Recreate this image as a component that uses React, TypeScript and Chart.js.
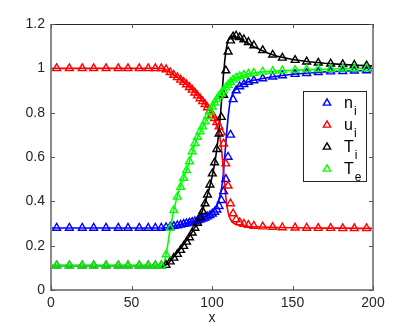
import React, { useEffect, useRef } from "react";
import { Chart, registerables } from "chart.js";

Chart.register(...registerables);

// ---- data ----
const markerX = [
  3.5, 11.4, 19.4, 26.5, 34.2, 41.8, 47.8, 54.8, 60.4, 64.8, 68.5,
  71.5, 74, 76.3, 78.5, 80.5, 82.4, 84.2, 86, 87.7, 89.4,
  91, 92.6, 94.2, 95.7, 97.2, 98.7, 100.2, 101.6, 103, 104.4,
  105.8, 107.2, 108.6, 110, 111.5, 113.1, 115, 117.2, 119.8, 122.6,
  126, 131.5, 137.7, 143.7, 151.6, 158.8, 166, 173.7, 181.2, 188.4, 196,
];

const niMarkers = [
  0.28, 0.28, 0.28, 0.28, 0.28, 0.28, 0.28, 0.28, 0.28, 0.28, 0.28,
  0.282, 0.285, 0.288, 0.291, 0.294, 0.297, 0.3, 0.303, 0.306, 0.309,
  0.313, 0.317, 0.321, 0.326, 0.331, 0.337, 0.344, 0.352, 0.362, 0.378,
  0.405, 0.445, 0.5, 0.6, 0.7, 0.86, 0.9, 0.918, 0.928, 0.938,
  0.945, 0.954, 0.962, 0.968, 0.974, 0.978, 0.982, 0.985, 0.987, 0.989, 0.99,
];

const uiMarkers = [
  1, 1, 1, 1, 1, 1, 1, 1, 1, 1, 1,
  0.995, 0.982, 0.97, 0.959, 0.948, 0.938, 0.927, 0.915, 0.903, 0.89,
  0.877, 0.864, 0.851, 0.838, 0.823, 0.808, 0.79, 0.775, 0.757, 0.737,
  0.71, 0.66, 0.57, 0.47, 0.39, 0.345, 0.318, 0.305, 0.298, 0.293,
  0.289, 0.286, 0.284, 0.282, 0.281, 0.28, 0.279, 0.279, 0.278, 0.278, 0.278,
];

const tiMarkers = [
  0.11, 0.11, 0.11, 0.11, 0.11, 0.11, 0.11, 0.11, 0.11, 0.11, 0.11,
  0.112, 0.128, 0.145, 0.162, 0.18, 0.198, 0.217, 0.237, 0.258, 0.28,
  0.302, 0.327, 0.355, 0.39, 0.43, 0.475, 0.525, 0.575, 0.635, 0.705,
  0.78, 0.88, 0.99, 1.075, 1.125, 1.143, 1.147, 1.14, 1.13, 1.118,
  1.103, 1.081, 1.061, 1.047, 1.037, 1.03, 1.025, 1.021, 1.018, 1.015, 1.012,
];

const teMarkers = [
  0.11, 0.11, 0.11, 0.11, 0.11, 0.11, 0.11, 0.11, 0.11, 0.11, 0.11,
  0.16, 0.28, 0.36, 0.42, 0.465, 0.505, 0.54, 0.58, 0.625, 0.662,
  0.69, 0.715, 0.737, 0.76, 0.783, 0.805, 0.827, 0.845, 0.86, 0.875,
  0.888, 0.9, 0.913, 0.925, 0.937, 0.948, 0.957, 0.964, 0.97, 0.975,
  0.979, 0.984, 0.987, 0.99, 0.992, 0.994, 0.996, 0.997, 0.998, 0.999, 1.0,
];

const lineX = [
  0, 70, 72, 74, 76, 78, 80, 82, 84, 86, 88, 90, 92, 94, 96, 98, 100,
  101, 102, 103, 104, 105, 106, 107, 108, 109, 110, 111, 112, 113, 114,
  116, 118, 120, 123, 126, 130, 135, 140, 150, 160, 170, 180, 190, 200,
];

const niLine = [
  0.28, 0.28, 0.282, 0.285, 0.288, 0.291, 0.294, 0.297, 0.3, 0.304, 0.308, 0.313, 0.318, 0.324, 0.331, 0.34, 0.352,
  0.36, 0.37, 0.383, 0.4, 0.425, 0.46, 0.52, 0.61, 0.7, 0.78, 0.84, 0.87, 0.888, 0.9,
  0.915, 0.925, 0.932, 0.94, 0.946, 0.952, 0.959, 0.964, 0.973, 0.979, 0.984, 0.987, 0.989, 0.99,
];

const uiLine = [
  1, 1, 0.993, 0.982, 0.971, 0.961, 0.95, 0.939, 0.927, 0.915, 0.9, 0.885, 0.868, 0.852, 0.835, 0.815, 0.793,
  0.78, 0.765, 0.745, 0.72, 0.685, 0.63, 0.55, 0.46, 0.39, 0.35, 0.325, 0.312, 0.304, 0.299,
  0.293, 0.29, 0.288, 0.286, 0.285, 0.284, 0.283, 0.282, 0.281, 0.28, 0.279, 0.279, 0.278, 0.278,
];

const tiLine = [
  0.11, 0.11, 0.115, 0.13, 0.147, 0.165, 0.183, 0.202, 0.222, 0.243, 0.266, 0.292, 0.322, 0.357, 0.4, 0.45, 0.51,
  0.545, 0.585, 0.635, 0.695, 0.77, 0.86, 0.96, 1.04, 1.095, 1.125, 1.14, 1.145, 1.146, 1.144,
  1.138, 1.13, 1.122, 1.11, 1.098, 1.084, 1.068, 1.056, 1.04, 1.03, 1.023, 1.018, 1.014, 1.011,
];

const teLine = [
  0.11, 0.11, 0.18, 0.275, 0.35, 0.412, 0.46, 0.5, 0.538, 0.58, 0.628, 0.672, 0.705, 0.733, 0.762, 0.792, 0.822,
  0.836, 0.848, 0.858, 0.869, 0.879, 0.889, 0.898, 0.907, 0.916, 0.924, 0.932, 0.94, 0.946, 0.951,
  0.959, 0.965, 0.97, 0.975, 0.979, 0.983, 0.986, 0.988, 0.991, 0.994, 0.996, 0.998, 0.999, 1.0,
];

const legendBase = ["n", "u", "T", "T"];
const legendSub = ["i", "i", "i", "e"];
const seriesColors = ["#0000ff", "#ff0000", "#000000", "#00ff00"];
const xTicks = [0, 50, 100, 150, 200];
const yTicks = [0, 0.2, 0.4, 0.6, 0.8, 1, 1.2];

const FONT = "'Liberation Sans', Arial, Helvetica, sans-serif";

function triangle(ctx: CanvasRenderingContext2D, x: number, y: number, r: number, color: string) {
  const t = (2 * Math.PI) / 3;
  ctx.beginPath();
  ctx.moveTo(x, y - r);
  ctx.lineTo(x + Math.sin(t) * r, y - Math.cos(t) * r);
  ctx.lineTo(x + Math.sin(2 * t) * r, y - Math.cos(2 * t) * r);
  ctx.closePath();
  ctx.strokeStyle = color;
  ctx.lineWidth = 1.4;
  ctx.stroke();
}

const framePlugin = {
  id: "matlabFrame",
  afterDatasetsDraw(chart: any) {
    const { ctx, chartArea: a, scales } = chart;
    ctx.save();
    // frame
    ctx.strokeStyle = "#8a8a8a";
    ctx.lineWidth = 2;
    ctx.beginPath();
    ctx.moveTo(a.left, a.top);
    ctx.lineTo(a.left, a.bottom);
    ctx.lineTo(a.right, a.bottom);
    ctx.lineTo(a.right, a.top);
    ctx.stroke();
    ctx.strokeStyle = "#262626";
    ctx.lineWidth = 1;
    ctx.beginPath();
    ctx.moveTo(a.left, a.top + 0.5);
    ctx.lineTo(a.right, a.top + 0.5);
    ctx.stroke();
    // inward ticks
    ctx.strokeStyle = "#555";
    ctx.lineWidth = 1;
    ctx.beginPath();
    xTicks.forEach((v) => {
      const px = Math.round(scales.x.getPixelForValue(v)) + 0.5;
      ctx.moveTo(px, a.bottom);
      ctx.lineTo(px, a.bottom - 4);
      ctx.moveTo(px, a.top);
      ctx.lineTo(px, a.top + 4);
    });
    yTicks.forEach((v) => {
      const py = Math.round(scales.y.getPixelForValue(v)) + 0.5;
      ctx.moveTo(a.left, py);
      ctx.lineTo(a.left + 4, py);
      ctx.moveTo(a.right, py);
      ctx.lineTo(a.right - 4, py);
    });
    ctx.stroke();

    // legend
    const lw = 63;
    const lh = 90;
    const lx = Math.round(a.right - 70);
    const ly = Math.round(a.top + 67);
    ctx.fillStyle = "#ffffff";
    ctx.fillRect(lx, ly, lw, lh);
    ctx.strokeStyle = "#262626";
    ctx.lineWidth = 1;
    ctx.strokeRect(lx + 0.5, ly + 0.5, lw, lh);
    legendBase.forEach((b, i) => {
      const cy = ly + 12 + i * 22;
      triangle(ctx, lx + 24, cy, 4.2, seriesColors[i]);
      ctx.fillStyle = "#000";
      ctx.textAlign = "left";
      ctx.textBaseline = "alphabetic";
      ctx.font = `16px ${FONT}`;
      ctx.fillText(b, lx + 41, cy + 5);
      const w = ctx.measureText(b).width;
      ctx.font = `12px ${FONT}`;
      ctx.fillText(legendSub[i], lx + 41 + w + 1, cy + 12);
    });
    ctx.restore();
  },
};

export default function App() {
  const ref = useRef<HTMLCanvasElement | null>(null);

  useEffect(() => {
    if (!ref.current) return;
    const mk = (xs: number[], ys: number[]) => xs.map((x, i) => ({ x, y: ys[i] }));
    const lineSets = [niLine, uiLine, tiLine, teLine];
    const markSets = [niMarkers, uiMarkers, tiMarkers, teMarkers];
    const datasets: any[] = [];
    lineSets.forEach((ys, i) => {
      datasets.push({
        label: legendBase[i] + legendSub[i] + " line",
        data: mk(lineX, ys),
        showLine: true,
        borderColor: seriesColors[i],
        backgroundColor: seriesColors[i],
        borderWidth: 1.6,
        pointRadius: 0,
        tension: 0,
        fill: false,
        order: 10 + (3 - i),
      });
    });
    markSets.forEach((ys, i) => {
      datasets.push({
        label: legendBase[i] + legendSub[i],
        data: mk(markerX, ys),
        showLine: false,
        pointStyle: "triangle",
        pointRadius: 4.5,
        pointBorderWidth: 1.4,
        borderColor: seriesColors[i],
        pointBorderColor: seriesColors[i],
        backgroundColor: "rgba(0,0,0,0)",
        pointBackgroundColor: "rgba(0,0,0,0)",
        order: 3 - i,
      });
    });

    const tickFont = { family: FONT, size: 14 };
    const chart = new Chart(ref.current, {
      type: "scatter",
      data: { datasets },
      options: {
        responsive: false,
        animation: false,
        layout: { padding: { left: 0, top: 24, right: 21, bottom: 0 } },
        plugins: { legend: { display: false }, tooltip: { enabled: false } },
        scales: {
          x: {
            type: "linear",
            min: 0,
            max: 200,
            afterFit: (s: any) => {
              s.height = 37;
            },
            afterBuildTicks: (s: any) => {
              s.ticks = xTicks.map((v) => ({ value: v }));
            },
            grid: { display: false, drawTicks: false },
            border: { display: false },
            ticks: {
              font: tickFont,
              color: "#262626",
              padding: 5,
              maxRotation: 0,
              callback: (v: any) => String(v),
            },
            title: {
              display: true,
              text: "x",
              font: tickFont,
              color: "#262626",
              padding: { top: 0, bottom: 0 },
            },
          },
          y: {
            type: "linear",
            min: 0,
            max: 1.2,
            afterFit: (s: any) => {
              s.width = 51;
            },
            afterBuildTicks: (s: any) => {
              s.ticks = yTicks.map((v) => ({ value: v }));
            },
            grid: { display: false, drawTicks: false },
            border: { display: false },
            ticks: {
              font: tickFont,
              color: "#262626",
              padding: 6,
              callback: (v: any) => String(Math.round(Number(v) * 10) / 10),
            },
          },
        },
      },
      plugins: [framePlugin],
    } as any);
    return () => chart.destroy();
  }, []);

  return (
    <div style={{ position: "fixed", left: 0, top: 0, width: 394, height: 327, background: "#fff" }}>
      <canvas ref={ref} width={394} height={327} style={{ width: 394, height: 327, display: "block" }} />
    </div>
  );
}
